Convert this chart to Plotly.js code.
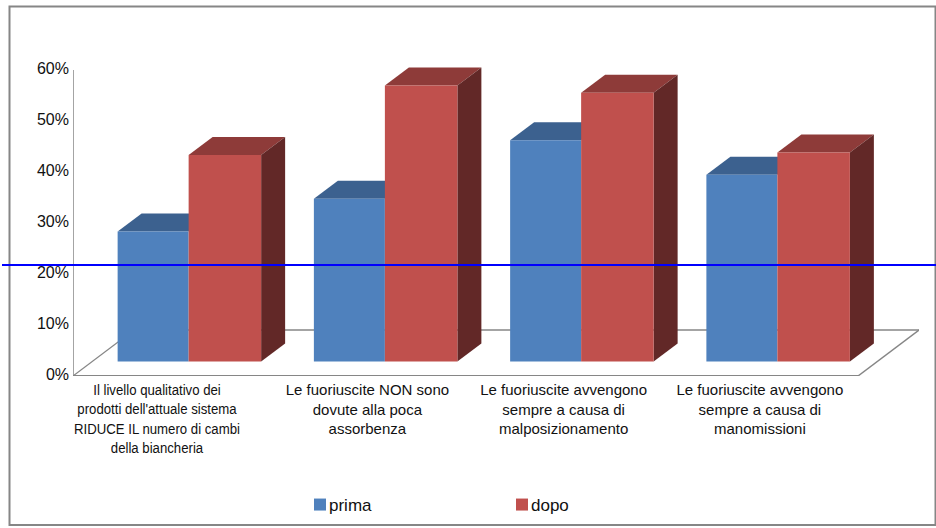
<!DOCTYPE html>
<html>
<head>
<meta charset="utf-8">
<script src="https://cdn.plot.ly/plotly-3.0.1.min.js"></script>
<style>html,body{margin:0;padding:0;background:#fff}</style>
</head>
<body>
<div id="chart" style="width:936px;height:528px"></div>
<script>
// Survey answers before and after, shown as pseudo-3D columns.
const categories = [
  "Il livello qualitativo dei<br>prodotti dell'attuale sistema<br>RIDUCE IL numero di cambi<br>della biancheria",
  "Le fuoriuscite NON sono<br>dovute alla poca<br>assorbenza",
  "Le fuoriuscite avvengono<br>sempre a causa di<br>malposizionamento",
  "Le fuoriuscite avvengono<br>sempre a causa di<br>manomissioni"
];
const prima = [0.255, 0.319, 0.434, 0.366];
const dopo  = [0.405, 0.541, 0.527, 0.410];
const referenceLine = 0.21765;
const labelPositions = [-0.072, 1, 2, 3];
const yTicks = [0, 0.1, 0.2, 0.3, 0.4, 0.5, 0.6];

// Plot frame, in pixels
const W = 936, H = 528, L = 73, R = 919, T = 60, B = 376;
const catPx = 196.25, unitPx = 510;               // px per category, px per 100%
const xMin = -0.5, xMax = xMin + (R - L) / catPx, yMax = (B - T) / unitPx;

// Projection offsets: columns and floor, expressed in axis units
const colDX = 24 / catPx, colDY = 18 / unitPx;
const floorDX = 61 / catPx, floorDY = 46 / unitPx;
const floorEnd = xMin + 785 / catPx;
const lift = 14.5 / unitPx;
const colShift = 17.5 / catPx, bluW = 71 / catPx, redW = 72.5 / catPx;

const poly = (pts, fill) => ({
  type: 'path', layer: 'below', xref: 'x', yref: 'y', line: {width: 0}, fillcolor: fill,
  path: 'M' + pts.map(p => p[0] + ',' + p[1]).join('L') + 'Z'
});
const seg = (x0, y0, x1, y1, width) => ({
  type: 'line', layer: 'below', xref: 'x', yref: 'y', x0, y0, x1, y1,
  line: {color: '#868686', width}
});
const px = v => (v - L) / (R - L), py = v => (B - v) / (B - T);

const shapes = [
  {type: 'rect', layer: 'below', xref: 'paper', yref: 'paper',
   x0: px(9.5), x1: px(935.5), y0: py(525), y1: py(6.5), line: {color: '#868686', width: 2}},
  seg(xMin, 0, xMin, 0.6, 1.5),
  seg(xMin, 0, floorEnd, 0, 2),
  seg(floorEnd, 0, floorEnd + floorDX, floorDY, 1.5),
  seg(floorEnd + floorDX, floorDY, xMin + floorDX, floorDY, 1.5),
  seg(xMin + floorDX, floorDY, xMin, 0, 1.2)
];

categories.forEach((_, i) => {
  const mid = i + colShift, bl = mid - bluW, rr = mid + redW;
  const bt = prima[i] + lift, rt = dopo[i] + lift;
  shapes.push(poly([[bl, bt], [bl + colDX, bt + colDY], [mid + colDX, bt + colDY], [mid, bt]], '#3c618f'));
  shapes.push(poly([[mid, rt], [mid + colDX, rt + colDY], [rr + colDX, rt + colDY], [rr, rt]], '#8e3b39'));
  shapes.push(poly([[rr, lift], [rr + colDX, lift + colDY], [rr + colDX, rt + colDY], [rr, rt]], '#622827'));
});

// Reference line crossing the whole figure, above the columns
shapes.push({type: 'line', layer: 'above', xref: 'paper', yref: 'y',
  x0: px(2), x1: px(936), y0: referenceLine, y1: referenceLine, line: {color: '#0000ff', width: 2}});

const idx = categories.map((_, i) => i);
const font = '"Liberation Sans", Arial, sans-serif';
const traces = [
  {type: 'bar', name: 'prima', x: idx.map(i => i + colShift - bluW / 2), y: prima,
   base: idx.map(() => lift), width: bluW, marker: {color: '#4f81bd', line: {width: 0}}, hoverinfo: 'skip'},
  {type: 'bar', name: 'dopo', x: idx.map(i => i + colShift + redW / 2), y: dopo,
   base: idx.map(() => lift), width: redW, marker: {color: '#c0504d', line: {width: 0}}, hoverinfo: 'skip'}
];

Plotly.newPlot('chart', traces, {
  width: W, height: H,
  margin: {l: L, r: W - R, t: T, b: H - B, pad: 0, autoexpand: false},
  paper_bgcolor: '#fff', plot_bgcolor: 'rgba(0,0,0,0)',
  font: {family: font, size: 15, color: '#111'},
  barmode: 'overlay',
  showlegend: true,
  legend: {orientation: 'h', x: px(300), xanchor: 'left', y: py(487), yanchor: 'top',
           bgcolor: 'rgba(0,0,0,0)', entrywidth: 157, entrywidthmode: 'pixels',
           font: {size: 17}, traceorder: 'normal'},
  xaxis: {range: [xMin, xMax], tickmode: 'array', tickvals: labelPositions, ticktext: categories,
          tickangle: 0, showgrid: false, zeroline: false, showline: false, ticks: '', automargin: false,
          ticklabelstandoff: 3},
  yaxis: {range: [0, yMax], tickmode: 'array', tickvals: yTicks, tickformat: '.0%',
          showgrid: false, zeroline: false, showline: false, ticks: '', automargin: false,
          ticklabelstandoff: 3, tickfont: {size: 16}},
  shapes
}, {staticPlot: true, displayModeBar: false}).then(() => {
  // Tighten the gap between each legend swatch and its label
  document.querySelectorAll('.legendtext').forEach(t => {
    t.setAttribute('x', parseFloat(t.getAttribute('x')) - 11);
  });
  // Raise the percent labels slightly
  document.querySelectorAll('.ytick text').forEach(t => {
    t.setAttribute('y', parseFloat(t.getAttribute('y')) - 2);
  });
  // The long first category is set narrower so it stays inside its slot
  const first = document.querySelector('.xtick text');
  const cx = parseFloat(first.getAttribute('x'));
  const base = first.getAttribute('transform') || '';
  first.setAttribute('transform', base + ' translate(' + cx + ',0) scale(0.88,1) translate(' + (-cx) + ',0)');
});
</script>
</body>
</html>
